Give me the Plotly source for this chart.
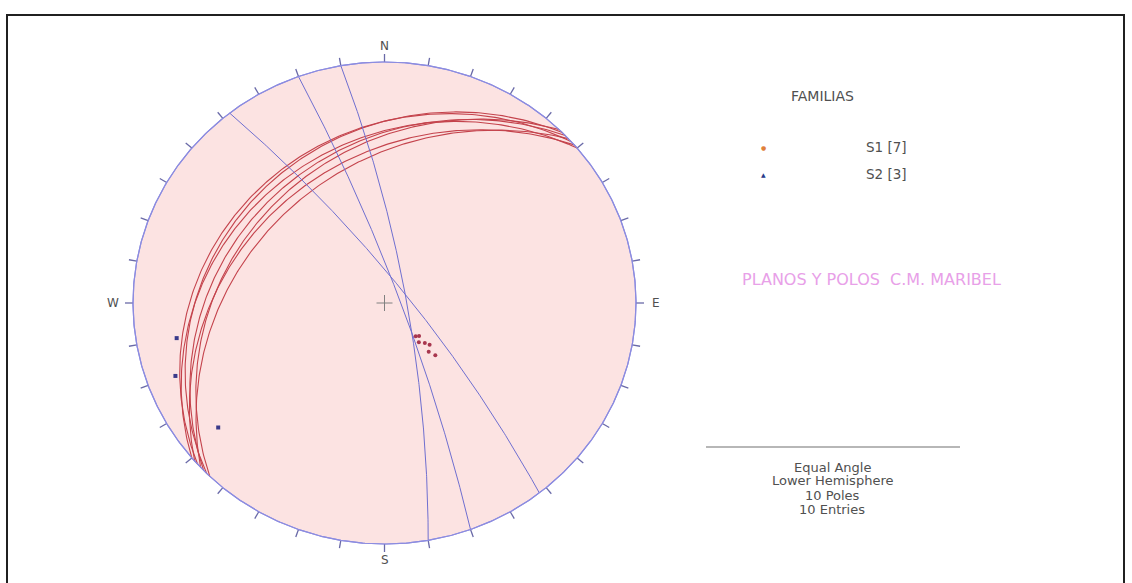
import numpy as np
import plotly.graph_objects as go

# ---------------- data ----------------
S1_dipdir = [318, 315, 320, 316, 314, 319, 317]
S1_dip = [21, 22, 24, 26, 28, 30, 33]
S2_dipdir = [52, 80, 70]
S2_dip = [80, 80, 83]
family_labels = ["S1 [7]", "S2 [3]"]
info_lines = ["Equal Angle", "Lower Hemisphere", "10 Poles", "10 Entries"]
cardinal_labels = ["N", "E", "S", "W"]
cardinal_az = [0, 90, 180, 270]
tick_az = list(range(0, 360, 10))
legend_title = "FAMILIAS"
chart_title = "PLANOS Y POLOS  C.M. MARIBEL"

# ---------------- layout constants ----------------
W, H = 1132, 583
cx, cy = 384.5, 303.0     # pixel centre of the net
sx, sy = 251.5, 241.0     # pixel radius (x / y)

FONT = "DejaVu Sans"
TXT = "#505050"


def proj(trend, plunge):
    """Equal-angle (stereographic) lower hemisphere projection."""
    trend = np.asarray(trend, dtype=float)
    plunge = np.asarray(plunge, dtype=float)
    r = np.tan(np.radians(90.0 - plunge) / 2.0)
    t = np.radians(trend)
    return r * np.sin(t), r * np.cos(t)


def great_circle(dd, dip, n=241):
    s = np.radians(dd - 90.0)
    d = np.radians(dd)
    dp = np.radians(dip)
    t = np.linspace(0, np.pi, n)
    sv = np.array([np.cos(s), np.sin(s), 0.0])
    dv = np.array([np.cos(d) * np.cos(dp), np.sin(d) * np.cos(dp), np.sin(dp)])
    v = np.outer(np.cos(t), sv) + np.outer(np.sin(t), dv)
    pl = np.degrees(np.arcsin(np.clip(v[:, 2], -1, 1)))
    tr = np.degrees(np.arctan2(v[:, 1], v[:, 0]))
    return proj(tr, pl)


def pole(dd, dip):
    return proj(np.asarray(dd) + 180.0, 90.0 - np.asarray(dip))


fig = go.Figure()

# primitive fill
th = np.linspace(0, 2 * np.pi, 721)
fig.add_trace(go.Scatter(x=np.sin(th), y=np.cos(th), mode="lines", fill="toself",
                         fillcolor="#fce3e2", line=dict(color="#8c8ce0", width=1.2),
                         hoverinfo="skip"))

# ticks (outward, ~8 px)
tx, ty = [], []
for a in tick_az:
    ar = np.radians(a)
    tx += [np.sin(ar), np.sin(ar) * (1 + 8.0 / sx), None]
    ty += [np.cos(ar), np.cos(ar) * (1 + 8.0 / sy), None]
fig.add_trace(go.Scatter(x=tx, y=ty, mode="lines", line=dict(color="#6a6aa8", width=1.3),
                         hoverinfo="skip"))

# great circles S1
for dd, dp in zip(S1_dipdir, S1_dip):
    x, y = great_circle(dd, dp)
    fig.add_trace(go.Scatter(x=x, y=y, mode="lines", line=dict(color="#c4434c", width=1.1),
                             hoverinfo="skip"))
# great circles S2
for dd, dp in zip(S2_dipdir, S2_dip):
    x, y = great_circle(dd, dp)
    fig.add_trace(go.Scatter(x=x, y=y, mode="lines", line=dict(color="#6f6fd0", width=1),
                             hoverinfo="skip"))

# primitive outline on top
fig.add_trace(go.Scatter(x=np.sin(th), y=np.cos(th), mode="lines",
                         line=dict(color="#8c8ce0", width=1.2), hoverinfo="skip"))

# poles
px, py = pole(S1_dipdir, S1_dip)
fig.add_trace(go.Scatter(x=px, y=py, mode="markers",
                         marker=dict(color="#a8364e", size=4, symbol="circle"), hoverinfo="skip"))
px, py = pole(S2_dipdir, S2_dip)
fig.add_trace(go.Scatter(x=px, y=py, mode="markers",
                         marker=dict(color="#3a3a8a", size=4, symbol="square"), hoverinfo="skip"))

# centre cross
c = 8.0
fig.add_trace(go.Scatter(x=[-c / sx, c / sx, None, 0, 0], y=[0, 0, None, -c / sy, c / sy],
                         mode="lines", line=dict(color="#808080", width=1), hoverinfo="skip"))


def px2paper(xp, yp):
    return xp / W, 1 - yp / H


annotations = []
# cardinal labels
for lab, a in zip(cardinal_labels, cardinal_az):
    ar = np.radians(a)
    off_x = 20.0 / sx
    off_y = 16.0 / sy
    annotations.append(dict(x=np.sin(ar) * (1 + off_x), y=np.cos(ar) * (1 + off_y),
                            xref="x", yref="y", text=lab, showarrow=False,
                            font=dict(family=FONT, size=12, color=TXT)))


def ptext(xp, yp, text, size=12, color=TXT, xanchor="center"):
    X, Y = px2paper(xp, yp)
    annotations.append(dict(x=X, y=Y, xref="paper", yref="paper", text=text, showarrow=False,
                            xanchor=xanchor, yanchor="middle",
                            font=dict(family=FONT, size=size, color=color)))


ptext(822, 96, legend_title, 14)
ptext(864, 147, family_labels[0], 13.5, xanchor="left")
ptext(864, 174, family_labels[1], 13.5, xanchor="left")
ptext(763, 147, "●", 6, color="#e0803a")
ptext(763, 174, "▲", 6, color="#2a3a8a")
ptext(871, 279, chart_title, 16, color="#e8a0e8")
for i, line in enumerate(info_lines):
    ptext(832, 467 + i * 14.0, line, 13)

shapes = [
    dict(type="line", xref="paper", yref="paper", x0=706 / W, x1=960 / W,
         y0=1 - 447 / H, y1=1 - 447 / H, line=dict(color="#707070", width=1.2)),
    dict(type="rect", xref="paper", yref="paper", x0=7 / W, x1=1124 / W,
         y0=1 - 600 / H, y1=1 - 15 / H, line=dict(color="#202020", width=2)),
]

fig.update_layout(
    width=W, height=H, margin=dict(l=0, r=0, t=0, b=0),
    paper_bgcolor="white", plot_bgcolor="white", showlegend=False,
    xaxis=dict(range=[(0 - cx) / sx, (W - cx) / sx], visible=False, fixedrange=True),
    yaxis=dict(range=[(cy - H) / sy, cy / sy], visible=False, fixedrange=True),
    annotations=annotations, shapes=shapes,
)

fig.write_html("out.html", config={"displayModeBar": False},
               post_script="document.body.style.margin='0';document.body.style.overflow='hidden';")
